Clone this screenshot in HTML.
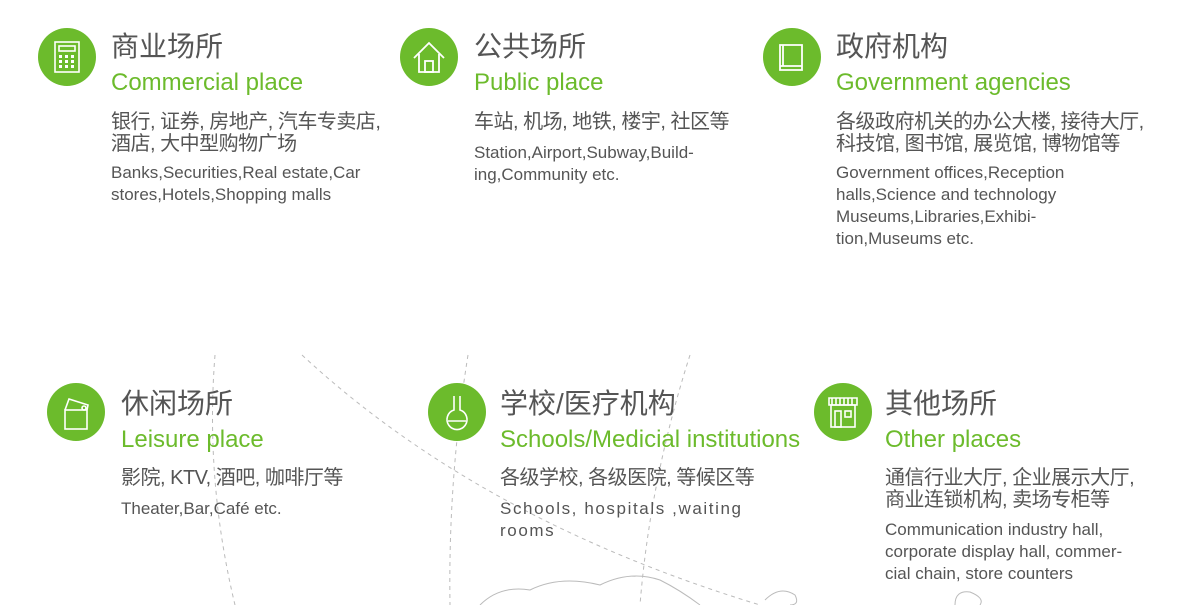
<!DOCTYPE html>
<html><head><meta charset="utf-8"><style>
body{margin:0;width:1200px;height:605px;background:#fff;position:relative;overflow:hidden;font-family:"Liberation Sans","Noto Sans CJK SC",sans-serif;color:#555}
.c{position:absolute;width:58px;height:58px;border-radius:50%;background:#6cbb2c}
.t{position:absolute;white-space:nowrap}
.h{font-size:28px;color:#555;line-height:30px}
.g{font-size:24px;color:#6cbb2c;line-height:28px}
.cn{font-size:20px;line-height:22px;color:#555;letter-spacing:-0.5px}
.en{font-size:17px;line-height:22px;color:#555;letter-spacing:0px}
</style></head><body>
<svg width="1200" height="605" style="position:absolute;left:0;top:0">
<g fill="none" stroke="#bbb" stroke-dasharray="4 4" stroke-width="1">
<path d="M215 355 Q205 480 235 605"/>
<path d="M302 355 Q480 520 760 605"/>
<path d="M468 355 Q448 480 450 605"/>
<path d="M690 355 Q650 480 640 605"/>
</g>
<g fill="none" stroke="#bbb" stroke-width="1">
<path d="M480 605 Q500 585 530 590 Q560 575 600 585 Q630 570 660 580 Q680 590 700 605"/>
<path d="M765 600 Q780 585 795 595 Q800 605 790 605"/>
<path d="M955 605 Q955 590 970 592 Q985 598 980 605"/>
</g>
</svg>
<div class="c" style="left:38px;top:28px"><svg width="58" height="58"><g fill="none" stroke="#fff" stroke-width="1.6"><rect x="17" y="14" width="24" height="30"/><rect x="21" y="18" width="16" height="5"/></g><g fill="#fff"><rect x="21" y="27" width="3" height="3"/><rect x="27" y="27" width="3" height="3"/><rect x="33" y="27" width="3" height="3"/><rect x="21" y="32" width="3" height="3"/><rect x="27" y="32" width="3" height="3"/><rect x="33" y="32" width="3" height="3"/><rect x="21" y="37" width="3" height="3"/><rect x="27" y="37" width="3" height="3"/><rect x="33" y="37" width="3" height="3"/></g></svg></div>
<div class="c" style="left:400px;top:28px"><svg width="58" height="58"><g fill="none" stroke="#fff" stroke-width="1.8"><path d="M14 30 L29 15 L44 30"/><path d="M19 26 V44 H39 V26"/><rect x="25" y="33" width="8" height="11"/></g></svg></div>
<div class="c" style="left:763px;top:28px"><svg width="58" height="58"><g fill="none" stroke="#fff" stroke-width="1.8"><path d="M17 17 H39 V42 H17 Z"/><path d="M17 38 H39 M20 17 V38"/></g></svg></div>
<div class="c" style="left:47px;top:383px"><svg width="58" height="58"><g fill="none" stroke="#fff" stroke-width="1.6"><rect x="18" y="27" width="22" height="19"/><path d="M18 27 L22 16 L41 22 L40 27"/><circle cx="37" cy="25" r="2"/></g></svg></div>
<div class="c" style="left:428px;top:383px"><svg width="58" height="58"><g fill="none" stroke="#fff" stroke-width="1.6"><path d="M26 13 V27 A10 10 0 1 0 32 27 V13"/><path d="M20 38 H38"/></g></svg></div>
<div class="c" style="left:814px;top:383px"><svg width="58" height="58"><g fill="none" stroke="#fff" stroke-width="1.6"><path d="M15 15 H43 V22 H15 Z M18 15 V22 M22 15V22 M26 15V22 M30 15V22 M34 15V22 M38 15V22"/><rect x="17" y="22" width="24" height="22"/><rect x="21" y="28" width="6" height="16"/><rect x="31" y="28" width="6" height="6"/></g></svg></div>

<div class="t h" style="left:111px;top:32px">商业场所</div>
<div class="t g" style="left:111px;top:69px">Commercial place</div>
<div class="t cn" style="left:111px;top:111px">银行, 证券, 房地产, 汽车专卖店,<br>酒店, 大中型购物广场</div>
<div class="t en" style="left:111px;top:162px">Banks,Securities,Real estate,Car<br>stores,Hotels,Shopping malls</div>

<div class="t h" style="left:474px;top:32px">公共场所</div>
<div class="t g" style="left:474px;top:69px">Public place</div>
<div class="t cn" style="left:474px;top:111px">车站, 机场, 地铁, 楼宇, 社区等</div>
<div class="t en" style="left:474px;top:142px">Station,Airport,Subway,Build-<br>ing,Community etc.</div>

<div class="t h" style="left:836px;top:32px">政府机构</div>
<div class="t g" style="left:836px;top:69px">Government agencies</div>
<div class="t cn" style="left:836px;top:111px">各级政府机关的办公大楼, 接待大厅,<br>科技馆, 图书馆, 展览馆, 博物馆等</div>
<div class="t en" style="left:836px;top:162px">Government offices,Reception<br>halls,Science and technology<br>Museums,Libraries,Exhibi-<br>tion,Museums etc.</div>

<div class="t h" style="left:121px;top:389px">休闲场所</div>
<div class="t g" style="left:121px;top:426px">Leisure place</div>
<div class="t cn" style="left:121px;top:467px">影院, KTV, 酒吧, 咖啡厅等</div>
<div class="t en" style="left:121px;top:498px">Theater,Bar,Café etc.</div>

<div class="t h" style="left:500px;top:389px">学校/医疗机构</div>
<div class="t g" style="left:500px;top:426px">Schools/Medicial institutions</div>
<div class="t cn" style="left:500px;top:467px">各级学校, 各级医院, 等候区等</div>
<div class="t en" style="left:500px;top:498px;letter-spacing:1.6px">Schools, hospitals ,waiting<br>rooms</div>

<div class="t h" style="left:885px;top:389px">其他场所</div>
<div class="t g" style="left:885px;top:426px">Other places</div>
<div class="t cn" style="left:885px;top:467px">通信行业大厅, 企业展示大厅,<br>商业连锁机构, 卖场专柜等</div>
<div class="t en" style="left:885px;top:519px">Communication industry hall,<br>corporate display hall, commer-<br>cial chain, store counters</div>
</body></html>
